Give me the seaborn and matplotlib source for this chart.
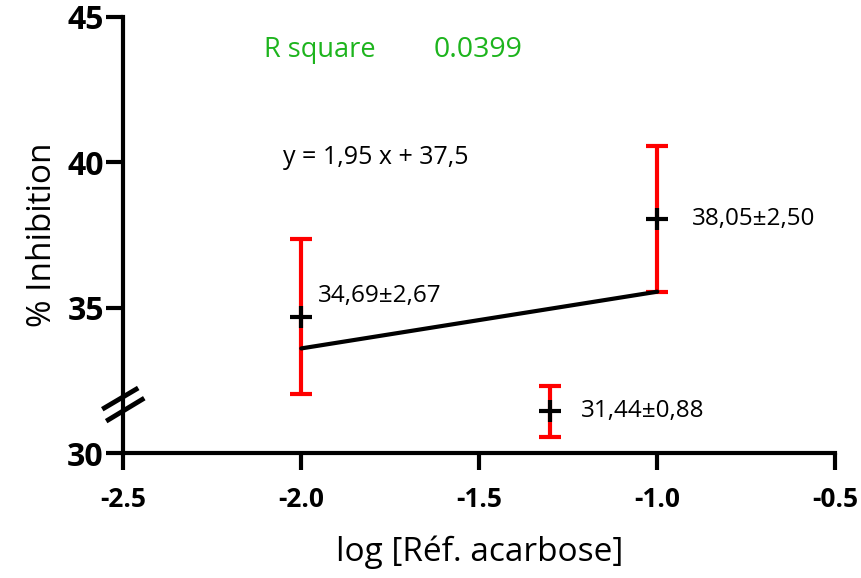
import numpy as np
import pandas as pd
import seaborn as sns
import matplotlib.pyplot as plt

# data
log_conc = [-2.0, -1.301, -1.0]
inhibition = [34.69, 31.44, 38.05]
sd = [2.67, 0.88, 2.50]
point_labels = ['34,69±2,67', '31,44±0,88', '38,05±2,50']

slope, intercept = 1.95, 37.5
fit_x = [-2.0, -1.0]
r_square = '0.0399'

xticks = [-2.5, -2.0, -1.5, -1.0, -0.5]
yticks = [30, 35, 40, 45]

sns.set_style('ticks')
plt.rcParams['font.family'] = ['Open Sans', 'DejaVu Sans']
plt.rcParams['text.color'] = 'black'
plt.rcParams['axes.labelcolor'] = 'black'
plt.rcParams['xtick.color'] = 'black'
plt.rcParams['ytick.color'] = 'black'
plt.rcParams['axes.edgecolor'] = 'black'

df = pd.DataFrame({'x': log_conc, 'y': inhibition, 'sd': sd})
fit = pd.DataFrame({'x': fit_x, 'y': [slope * v + intercept for v in fit_x]})

fig = plt.figure(figsize=(8.62, 5.78), dpi=100)
ax = fig.add_axes([0.143, 0.216, 0.826, 0.755])

ax.errorbar(df['x'], df['y'], yerr=df['sd'], fmt='none', ecolor='#ff0000',
            elinewidth=3, capsize=8, capthick=3, zorder=2)
sns.lineplot(data=fit, x='x', y='y', color='black', linewidth=3, ax=ax, zorder=3)
sns.scatterplot(data=df, x='x', y='y', marker='+', s=240, color='black',
                linewidth=3, ax=ax, zorder=4)

offsets = [(12, 15), (22, 0), (25, 0)]
for (x, y, lab), (dx, dy) in zip(zip(log_conc, inhibition, point_labels), offsets):
    ax.annotate(lab, (x, y), xytext=(dx, dy), textcoords='offset points',
                fontsize=17.5, va='center', ha='left')

ax.text(-1.79, 40.15, f'y = {slope:.2f} x + {intercept}'.replace('.', ','),
        fontsize=18, ha='center', va='center')
ax.text(-1.948, 43.85, 'R square', color='#1db41d', fontsize=19.5, ha='center', va='center')
ax.text(-1.503, 43.85, r_square, color='#1db41d', fontsize=20.5, ha='center', va='center')

ax.set_xlim(-2.5, -0.5)
ax.set_ylim(30, 45)
ax.set_xticks(xticks)
ax.set_xticklabels([f'{t:.1f}' for t in xticks], fontsize=19, fontweight='bold')
ax.set_yticks(yticks)
ax.set_yticklabels([str(t) for t in yticks], fontsize=23, fontweight='bold')
ax.tick_params(width=3, length=12, direction='out')
ax.tick_params(axis='x', pad=12)
ax.tick_params(axis='y', pad=2)
for side in ['left', 'bottom']:
    ax.spines[side].set_linewidth(3)
sns.despine(ax=ax)

ax.set_xlabel('log [Réf. acarbose]', fontsize=24, labelpad=16)
ax.set_ylabel('% Inhibition', fontsize=24, labelpad=6)

# axis break marks on the y axis
for (x0, y0), (x1, y1) in [((-2.559, 31.51), (-2.458, 32.24)),
                           ((-2.548, 31.10), (-2.441, 31.89))]:
    ax.plot([x0, x1], [y0, y1], color='black', linewidth=3.5,
            clip_on=False, zorder=5, solid_capstyle='butt')

fig.savefig('out.png', dpi=100)
